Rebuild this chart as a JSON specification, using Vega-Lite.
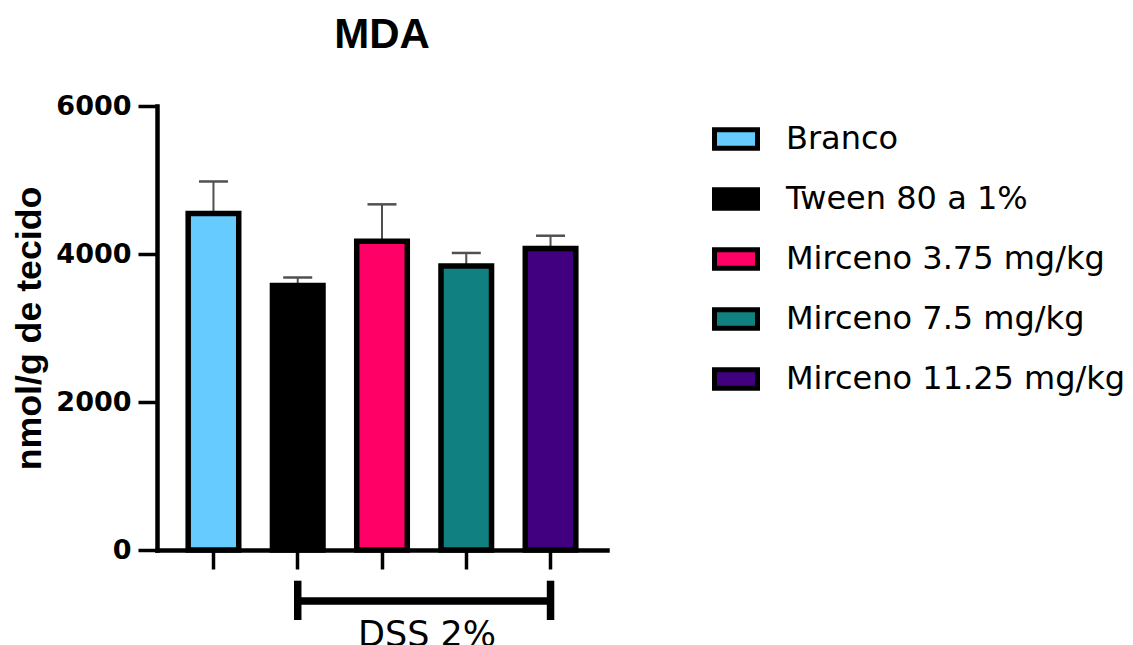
{
  "$schema": "https://vega.github.io/schema/vega-lite/v6.json",
  "width": 450,
  "height": 444,
  "autosize": {"type": "none"},
  "padding": {"left": 157, "top": 106, "right": 526, "bottom": 95},
  "background": "white",
  "title": {
    "text": "MDA",
    "font": "Liberation Sans",
    "fontSize": 42,
    "fontWeight": "bold",
    "color": "black",
    "anchor": "middle",
    "frame": "group",
    "baseline": "bottom",
    "offset": -6.5
  },
  "datasets": {
    "grupos": [
      {"grupo": "Branco", "media": 4547, "sup": 4980},
      {"grupo": "Tween 80 a 1%", "media": 3574, "sup": 3682},
      {"grupo": "Mirceno 3.75 mg/kg", "media": 4173, "sup": 4671},
      {"grupo": "Mirceno 7.5 mg/kg", "media": 3839, "sup": 4014},
      {"grupo": "Mirceno 11.25 mg/kg", "media": 4074, "sup": 4247}
    ],
    "chave": [
      {"inicio": "Tween 80 a 1%", "fim": "Mirceno 11.25 mg/kg", "rotulo": "DSS 2%", "ancora": "Mirceno 3.75 mg/kg"}
    ],
    "pontas": [
      {"ponta": "Tween 80 a 1%"},
      {"ponta": "Mirceno 11.25 mg/kg"}
    ]
  },
  "config": {
    "view": {"stroke": null},
    "axis": {
      "grid": false,
      "domainColor": "black",
      "domainWidth": 4.5,
      "domainCap": "square",
      "tickColor": "black",
      "tickWidth": 3.5,
      "tickSize": 19
    }
  },
  "layer": [
    {
      "data": {"name": "grupos"},
      "mark": {"type": "rule", "color": "#505050", "strokeWidth": 2},
      "encoding": {
        "x": {"field": "grupo", "type": "nominal"},
        "y": {"field": "media", "type": "quantitative"},
        "y2": {"field": "sup"}
      }
    },
    {
      "data": {"name": "grupos"},
      "mark": {"type": "tick", "orient": "horizontal", "color": "#505050", "thickness": 2.5, "size": 29, "opacity": 1},
      "encoding": {
        "x": {"field": "grupo", "type": "nominal"},
        "y": {"field": "sup", "type": "quantitative"}
      }
    },
    {
      "data": {"name": "grupos"},
      "mark": {"type": "bar", "stroke": "black", "strokeWidth": 5.5, "opacity": 1},
      "encoding": {
        "x": {
          "field": "grupo",
          "type": "nominal",
          "sort": null,
          "scale": {
            "domain": ["Branco", "Tween 80 a 1%", "Mirceno 3.75 mg/kg", "Mirceno 7.5 mg/kg", "Mirceno 11.25 mg/kg"],
            "paddingInner": 0.4,
            "paddingOuter": 0.37
          },
          "axis": {"title": null, "labels": false}
        },
        "y": {
          "field": "media",
          "type": "quantitative",
          "scale": {"domain": [0, 6000], "nice": false, "zero": true},
          "axis": {
            "title": "nmol/g de tecido",
            "values": [0, 2000, 4000, 6000],
            "format": "d",
            "labelFont": "DejaVu Sans",
            "labelFontWeight": "bold",
            "labelFontSize": 27,
            "labelColor": "black",
            "labelPadding": 7,
            "titleFont": "Liberation Sans",
            "titleFontSize": 35.7,
            "titleFontWeight": "bold",
            "titleColor": "black",
            "titleBaseline": "alphabetic",
            "titlePadding": 15
          }
        },
        "fill": {
          "field": "grupo",
          "type": "nominal",
          "sort": null,
          "scale": {
            "domain": ["Branco", "Tween 80 a 1%", "Mirceno 3.75 mg/kg", "Mirceno 7.5 mg/kg", "Mirceno 11.25 mg/kg"],
            "range": ["#66CCFF", "#000000", "#FF0066", "#108080", "#40007F"]
          },
          "legend": {
            "orient": "none",
            "legendX": 555,
            "legendY": 9,
            "title": null,
            "padding": 0,
            "symbolType": "M-1,-0.425H1V0.425H-1Z",
            "symbolSize": 1849,
            "symbolStrokeColor": "black",
            "symbolStrokeWidth": 5,
            "symbolOpacity": 1,
            "labelFont": "DejaVu Sans",
            "labelFontSize": 32,
            "labelColor": "black",
            "labelOffset": 26,
            "labelLimit": 500,
            "rowPadding": 16
          }
        }
      }
    },
    {
      "data": {"name": "chave"},
      "mark": {"type": "rule", "color": "black", "strokeWidth": 7.5, "strokeCap": "butt", "yOffset": 51},
      "encoding": {
        "x": {"field": "inicio", "type": "nominal", "bandPosition": 0.5},
        "x2": {"field": "fim", "bandPosition": 0.5},
        "y": {"datum": 0, "type": "quantitative"}
      }
    },
    {
      "data": {"name": "pontas"},
      "mark": {"type": "rule", "color": "black", "strokeWidth": 7.5, "strokeCap": "butt", "yOffset": 30.7, "y2Offset": 70},
      "encoding": {
        "x": {"field": "ponta", "type": "nominal"},
        "y": {"datum": 0, "type": "quantitative"},
        "y2": {"datum": 0}
      }
    },
    {
      "data": {"name": "chave"},
      "mark": {"type": "text", "font": "DejaVu Sans", "fontSize": 35, "color": "black", "baseline": "alphabetic", "align": "center", "dx": 45, "yOffset": 96},
      "encoding": {
        "x": {"field": "ancora", "type": "nominal"},
        "y": {"datum": 0, "type": "quantitative"},
        "text": {"field": "rotulo"}
      }
    }
  ]
}
